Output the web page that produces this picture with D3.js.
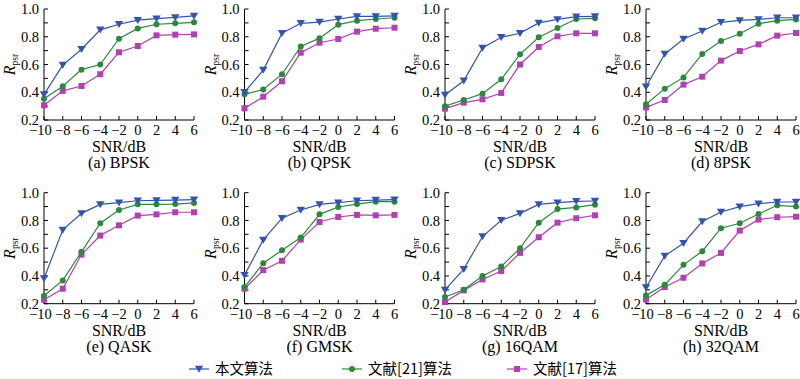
<!DOCTYPE html>
<html><head><meta charset="utf-8">
<script src="https://cdn.jsdelivr.net/npm/d3@7"></script>
<style>body{margin:0;background:#fff}svg{display:block}</style>
</head><body>
<svg id="c" width="800" height="379"></svg>
<script>
const snr = [-10,-8,-6,-4,-2,0,2,4,6];
const xTicks = [-10,-8,-6,-4,-2,0,2,4,6];
const yTicks = [0.2,0.3,0.4,0.5,0.6,0.7,0.8,0.9,1.0];
const yLabels = [0.2,0.4,0.6,0.8,1.0];
const captions = ["(a) BPSK","(b) QPSK","(c) SDPSK","(d) 8PSK","(e) QASK","(f) GMSK","(g) 16QAM","(h) 32QAM"];
const seriesNames = ["本文算法","文献[21]算法","文献[17]算法"];
const ours = [
 [0.385,0.596,0.71,0.85,0.89,0.92,0.93,0.94,0.95],
 [0.40,0.56,0.825,0.897,0.906,0.928,0.947,0.947,0.95],
 [0.38,0.483,0.719,0.796,0.825,0.90,0.925,0.945,0.947],
 [0.44,0.676,0.784,0.841,0.904,0.918,0.925,0.937,0.937],
 [0.382,0.732,0.851,0.916,0.928,0.942,0.945,0.947,0.95],
 [0.406,0.66,0.816,0.875,0.916,0.928,0.942,0.947,0.95],
 [0.30,0.449,0.684,0.801,0.851,0.916,0.928,0.938,0.94],
 [0.317,0.545,0.636,0.792,0.861,0.90,0.921,0.933,0.933]
];
const ref21 = [
 [0.354,0.443,0.563,0.60,0.786,0.86,0.89,0.897,0.904],
 [0.385,0.42,0.53,0.73,0.79,0.887,0.916,0.928,0.937],
 [0.30,0.344,0.39,0.493,0.673,0.796,0.863,0.928,0.933],
 [0.313,0.426,0.507,0.676,0.77,0.822,0.894,0.916,0.925],
 [0.257,0.368,0.574,0.78,0.875,0.916,0.916,0.918,0.926],
 [0.32,0.492,0.586,0.677,0.844,0.897,0.918,0.935,0.935],
 [0.248,0.30,0.40,0.468,0.60,0.784,0.882,0.894,0.914],
 [0.26,0.337,0.48,0.578,0.744,0.78,0.847,0.909,0.90]
];
const ref17 = [
 [0.306,0.41,0.445,0.53,0.688,0.733,0.81,0.815,0.817],
 [0.284,0.368,0.479,0.685,0.757,0.784,0.837,0.858,0.865],
 [0.282,0.325,0.349,0.395,0.60,0.726,0.803,0.825,0.825],
 [0.291,0.344,0.455,0.512,0.628,0.697,0.745,0.808,0.827],
 [0.229,0.308,0.554,0.691,0.765,0.835,0.844,0.859,0.859],
 [0.308,0.442,0.509,0.662,0.789,0.825,0.84,0.837,0.84],
 [0.212,0.296,0.375,0.435,0.566,0.679,0.784,0.816,0.837],
 [0.231,0.32,0.387,0.49,0.566,0.727,0.806,0.823,0.827]
];

const colors = ["#3353b3","#2b8a3a","#b23fb4"];
const markerTypes = ["tri","circle","square"];
const font = "'Liberation Serif','Times New Roman',serif";
const svg = d3.select("#c").style("font-family", font);

function drawMarker(g, type, x, y, color){
  if(type==="tri"){
    g.append("path").attr("d",`M${x-4.2},${y-3.2}L${x+4.2},${y-3.2}L${x},${y+3.8}Z`).attr("fill",color);
  } else if(type==="circle"){
    g.append("circle").attr("cx",x).attr("cy",y).attr("r",3).attr("fill",color);
  } else {
    g.append("rect").attr("x",x-3).attr("y",y-3).attr("width",6).attr("height",6).attr("fill",color);
  }
}

const colX = [44,244.5,445,646];
const rowY = [9,192.7];
const pw = 150, ph = 111;

for(let i=0;i<8;i++){
  const c = i%4, r = Math.floor(i/4);
  const g = svg.append("g").attr("transform",`translate(${colX[c]},${rowY[r]})`);
  const x = d3.scaleLinear().domain([-10,6]).range([0,pw]);
  const y = d3.scaleLinear().domain([0.2,1.0]).range([ph,0]);
  g.append("line").attr("x1",0).attr("x2",0).attr("y1",0).attr("y2",ph).attr("stroke","#000").attr("stroke-width",1);
  g.append("line").attr("x1",0).attr("x2",pw).attr("y1",ph).attr("y2",ph).attr("stroke","#000").attr("stroke-width",1);
  yTicks.forEach(t=>{
    g.append("line").attr("x1",0).attr("x2",4).attr("y1",y(t)).attr("y2",y(t)).attr("stroke","#000").attr("stroke-width",1);
  });
  yLabels.forEach(t=>{
    g.append("text").attr("x",-5).attr("y",y(t)).attr("dy","0.35em").attr("text-anchor","end")
      .attr("font-size",14.5).text(d3.format(".1f")(t));
  });
  xTicks.forEach(t=>{
    g.append("line").attr("x1",x(t)).attr("x2",x(t)).attr("y1",ph).attr("y2",ph-4).attr("stroke","#000").attr("stroke-width",1);
    g.append("text").attr("x",x(t) + (t===-10 ? -3.5 : 0)).attr("y",ph+15).attr("text-anchor","middle").attr("font-size",14.5)
      .text(t<0 ? "\u2212"+Math.abs(t) : String(t));
  });
  g.append("text").attr("x",pw/2).attr("y",ph+32).attr("text-anchor","middle").attr("font-size",16).text("SNR/dB");
  g.append("text").attr("x",pw/2).attr("y",ph+48).attr("text-anchor","middle").attr("font-size",16).text(captions[i]);
  const yl = g.append("text").attr("transform",`translate(-29,${ph/2}) rotate(-90)`).attr("text-anchor","middle").attr("font-size",16);
  yl.append("tspan").attr("font-style","italic").text("R");
  yl.append("tspan").attr("font-size",9.5).attr("dy",3).text("psr");

  const all = [ours[i], ref21[i], ref17[i]];
  const line = d3.line().x((d,k)=>x(snr[k])).y(d=>y(d));
  [2,1,0].forEach(s=>{
    g.append("path").attr("d",line(all[s])).attr("fill","none").attr("stroke",colors[s]).attr("stroke-width",1.2);
    all[s].forEach((v,k)=>drawMarker(g, markerTypes[s], x(snr[k]), y(v), colors[s]));
  });
}

const legX = [189,342,507];
const legY = 369;
seriesNames.forEach((n,s)=>{
  const g = svg.append("g");
  g.append("line").attr("x1",legX[s]).attr("x2",legX[s]+20).attr("y1",legY).attr("y2",legY).attr("stroke",colors[s]).attr("stroke-width",1.2);
  drawMarker(g, markerTypes[s], legX[s]+10, legY, colors[s]);
  g.append("text").attr("x",legX[s]+26).attr("y",legY).attr("dy","0.35em").attr("font-size",14.5)
    .attr("font-family","'Noto Sans CJK SC',serif").text(n);
});
</script>
</body></html>
